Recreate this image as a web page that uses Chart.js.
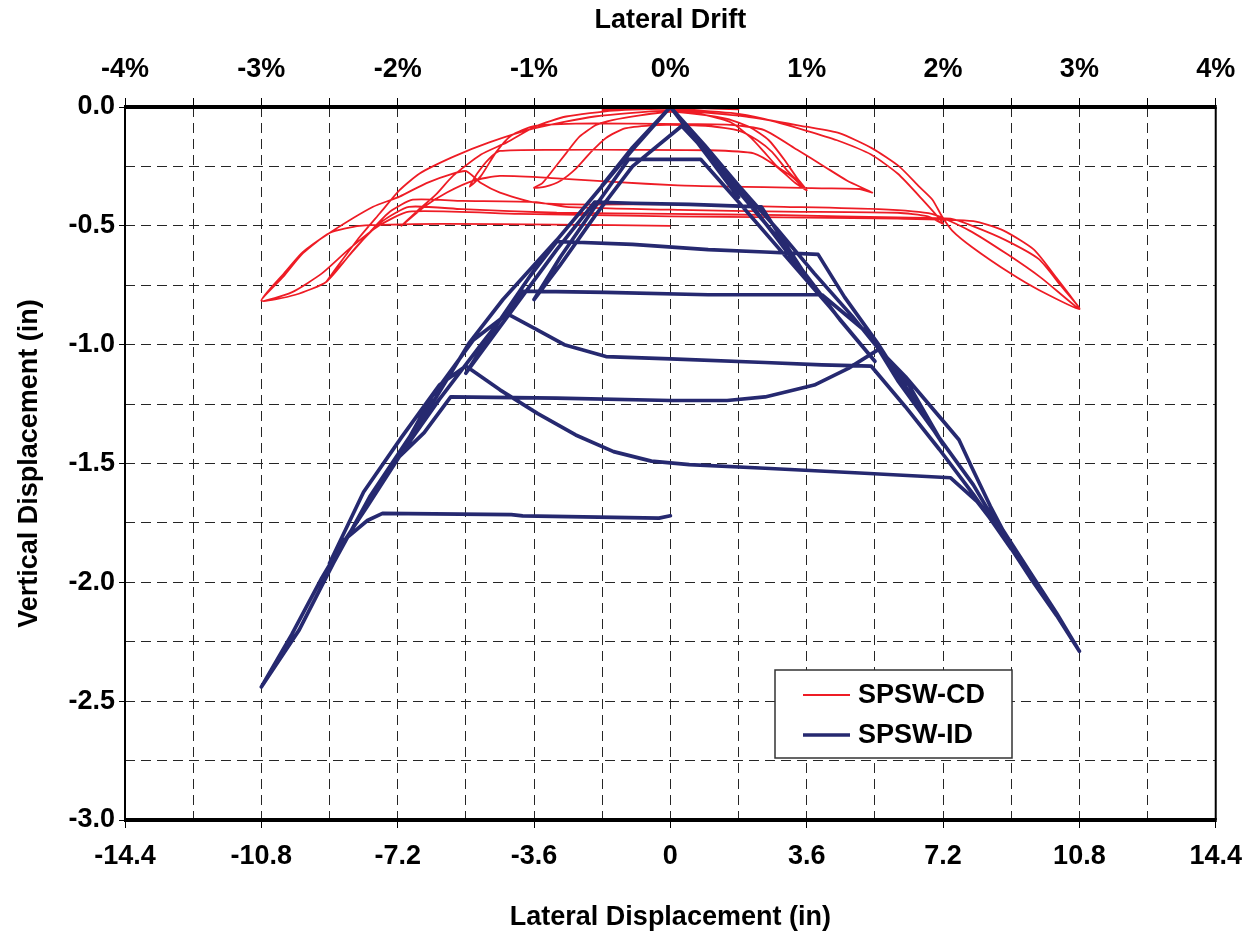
<!DOCTYPE html>
<html>
<head>
<meta charset="utf-8">
<title>SPSW vertical displacement</title>
<script src="https://cdn.jsdelivr.net/npm/chart.js@4.4.1/dist/chart.umd.min.js"></script>
<style>
  html, body { margin: 0; padding: 0; background: #fff; }
  #wrap { width: 1254px; height: 935px; }
</style>
</head>
<body>
<div id="wrap"><canvas id="myChart" width="1254" height="935"></canvas></div>
<script>
/* DATA */
var dispTicks = [-14.4, -10.8, -7.2, -3.6, 0, 3.6, 7.2, 10.8, 14.4];
var dispLabels = ['-14.4', '-10.8', '-7.2', '-3.6', '0', '3.6', '7.2', '10.8', '14.4'];
var driftTicks = [-4, -3, -2, -1, 0, 1, 2, 3, 4];
var driftLabels = ['-4%', '-3%', '-2%', '-1%', '0%', '1%', '2%', '3%', '4%'];
var vertTicks = [-3.0, -2.5, -2.0, -1.5, -1.0, -0.5, 0.0];
var vertLabels = ['-3.0', '-2.5', '-2.0', '-1.5', '-1.0', '-0.5', '0.0'];

// SPSW-CD: [lateral displacement (in), vertical displacement (in)]
var cdPath = [
  [0, 0], [0.9, -0.003], [1.8, -0.01], [0.9, -0.006], [0, -0.004], [-0.9, -0.005], [-1.8, -0.012], [-0.9, -0.008], [0, -0.006],
  [0.8, -0.03], [1.6, -0.065], [2.13, -0.13], [2.48, -0.19], [2.82, -0.25], [3.18, -0.29], [3.6, -0.35],
  [3.35, -0.30], [3.0, -0.22], [2.6, -0.14], [2.1, -0.085], [1.5, -0.05], [0.7, -0.03], [0, -0.02],
  [-0.8, -0.035], [-1.53, -0.055], [-1.96, -0.076], [-2.4, -0.125], [-2.75, -0.194], [-3.1, -0.265], [-3.38, -0.32], [-3.6, -0.34],
  [-3.3, -0.335], [-2.9, -0.31], [-2.5, -0.26], [-2.1, -0.19], [-1.7, -0.13], [-1.2, -0.09], [-0.5, -0.077], [0, -0.075], [1.0, -0.08],
  [1.82, -0.10], [2.3, -0.14], [2.69, -0.19], [3.1, -0.27], [3.6, -0.35],
  [3.3, -0.32], [2.8, -0.25], [2.2, -0.195], [1.0, -0.182], [-1.0, -0.18], [-3.0, -0.18], [-4.5, -0.185],
  [-4.8, -0.22], [-5.1, -0.28], [-5.3, -0.335],
  [-5.0, -0.29], [-4.6, -0.19], [-4.2, -0.12], [-3.6, -0.08], [-2.5, -0.07], [-1.0, -0.07], [0.5, -0.072],
  [1.6, -0.075], [2.48, -0.097], [3.35, -0.18], [4.06, -0.25], [4.67, -0.31], [5.33, -0.36],
  [5.0, -0.345], [4.0, -0.342], [3.45, -0.34], [1.5, -0.335], [0.2, -0.33], [-1.5, -0.315], [-3.0, -0.30], [-4.5, -0.29],
  [-5.2, -0.31], [-5.9, -0.36], [-6.5, -0.42], [-7.1, -0.50],
  [-6.7, -0.44], [-6.2, -0.37], [-5.74, -0.29], [-5.0, -0.20], [-4.33, -0.15], [-3.54, -0.08], [-2.75, -0.04], [-1.5, -0.015], [0, -0.008],
  [1.6, -0.025], [2.48, -0.05], [3.6, -0.10], [4.4, -0.14], [5.3, -0.20], [6.0, -0.28], [6.6, -0.38], [7.2, -0.49],
  [6.8, -0.46], [6.0, -0.445], [3.0, -0.44], [0.24, -0.433], [-2.75, -0.42], [-3.54, -0.40], [-5.5, -0.395], [-6.8, -0.39],
  [-7.4, -0.44], [-7.9, -0.52], [-8.4, -0.61], [-9.08, -0.735],
  [-8.73, -0.658], [-8.2, -0.546], [-7.67, -0.447], [-7.15, -0.35], [-6.62, -0.28], [-5.74, -0.21], [-4.8, -0.15], [-3.6, -0.09], [-2.0, -0.04], [0, -0.015],
  [2.0, -0.04], [3.58, -0.083], [4.46, -0.11], [5.33, -0.174], [6.04, -0.25], [6.57, -0.335], [6.92, -0.39], [7.17, -0.46], [7.44, -0.52], [7.97, -0.59], [8.98, -0.70], [9.73, -0.77], [10.8, -0.85],
  [10.3, -0.75], [9.73, -0.64], [8.85, -0.56], [7.97, -0.50], [7.4, -0.47], [6.0, -0.465], [3.0, -0.455], [0, -0.45], [-3.0, -0.445], [-5.5, -0.43], [-6.9, -0.42],
  [-7.6, -0.48], [-8.3, -0.59], [-9.08, -0.735], [-9.9, -0.79], [-10.8, -0.815],
  [-10.2, -0.70], [-9.7, -0.61], [-9.0, -0.53], [-7.85, -0.42], [-7.15, -0.377], [-6.44, -0.32], [-5.74, -0.28], [-5.39, -0.27], [-5.0, -0.32], [-4.5, -0.36], [-3.64, -0.40], [-2.58, -0.41], [0, -0.41], [3.0, -0.42], [5.5, -0.43], [6.9, -0.45],
  [7.9, -0.52], [8.9, -0.62], [9.8, -0.72], [10.8, -0.85],
  [10.2, -0.72], [9.6, -0.60], [8.8, -0.52], [8.0, -0.48], [6.0, -0.47], [0, -0.46], [-4.0, -0.45], [-6.9, -0.44],
  [-7.7, -0.50], [-8.5, -0.60], [-9.2, -0.70], [-10.0, -0.78], [-10.8, -0.815],
  [-10.22, -0.714], [-9.7, -0.615], [-9.0, -0.53], [-8.2, -0.50], [-6.0, -0.492], [-3.0, -0.495], [0, -0.50]
];

// SPSW-ID: [lateral displacement (in), vertical displacement (in)]
var idPath = [
  [0, 0],
  [1.0, -0.20], [1.8, -0.38], [1.0, -0.21], [0, 0],
  [-1.0, -0.18], [-1.8, -0.33], [-1.0, -0.17], [0, 0],
  [1.2, -0.24], [2.3, -0.45], [3.0, -0.58], [3.6, -0.72],
  [2.8, -0.55], [1.6, -0.30], [0.3, -0.08],
  [-1.0, -0.25], [-2.0, -0.46], [-2.93, -0.67], [-3.6, -0.81],
  [-2.9, -0.63], [-1.9, -0.40], [-1.1, -0.22],
  [0.8, -0.22],
  [1.8, -0.40], [3.0, -0.62], [4.2, -0.84], [5.4, -1.07],
  [4.5, -0.90], [3.5, -0.69], [2.4, -0.42],
  [0.5, -0.41], [-1.0, -0.405], [-2.0, -0.40],
  [-3.0, -0.60], [-4.2, -0.86], [-5.4, -1.12],
  [-4.6, -0.92], [-3.7, -0.71], [-3.0, -0.566],
  [-1.0, -0.578], [1.0, -0.60], [2.5, -0.61], [3.9, -0.62],
  [4.6, -0.80], [5.5, -1.0], [6.3, -1.20], [7.2, -1.42],
  [6.3, -1.17], [5.2, -0.95], [4.0, -0.79],
  [1.0, -0.79], [-1.7, -0.78], [-3.9, -0.775],
  [-5.0, -1.0], [-6.1, -1.23], [-7.2, -1.48],
  [-6.3, -1.22], [-5.2, -0.98], [-4.3, -0.87],
  [-3.6, -0.93], [-2.8, -1.0], [-1.7, -1.05], [0, -1.06], [2.5, -1.075], [4.0, -1.085], [5.3, -1.09],
  [6.2, -1.26], [7.1, -1.44], [8.0, -1.63], [9.0, -1.86],
  [8.0, -1.59], [7.0, -1.37], [6.0, -1.15], [5.5, -1.02],
  [4.7, -1.10], [3.8, -1.17], [2.5, -1.22], [1.5, -1.235], [0, -1.235], [-3.0, -1.225], [-5.8, -1.22],
  [-6.5, -1.37], [-7.15, -1.47], [-8.0, -1.68], [-9.0, -1.92],
  [-8.1, -1.62], [-7.1, -1.39], [-6.1, -1.17], [-5.4, -1.09],
  [-4.5, -1.19], [-3.5, -1.29], [-2.5, -1.38], [-1.5, -1.45], [-0.5, -1.49], [0.5, -1.505], [2.5, -1.52], [5.0, -1.54], [7.4, -1.56],
  [8.1, -1.66], [8.68, -1.78], [9.5, -1.98], [10.2, -2.14], [10.8, -2.29],
  [10.2, -2.13], [9.55, -1.97], [8.78, -1.78], [8.45, -1.68], [7.97, -1.52], [7.62, -1.40], [7.09, -1.30], [6.21, -1.135], [5.51, -1.02],
  [4.8, -0.88], [3.8, -0.70], [2.8, -0.51], [1.8, -0.33], [0.9, -0.16], [0, 0],
  [-1.0, -0.18], [-2.0, -0.37], [-3.0, -0.56], [-4.42, -0.81], [-5.3, -0.99], [-6.18, -1.22], [-7.06, -1.43], [-7.94, -1.64], [-8.9, -1.92], [-9.8, -2.20], [-10.8, -2.44],
  [-10.0, -2.22], [-9.2, -1.98], [-8.6, -1.82], [-8.0, -1.74], [-7.6, -1.71],
  [-4.2, -1.715], [-3.9, -1.72], [-0.3, -1.73], [0, -1.72]
];
/* DATA */

var FONT = "'Liberation Sans', Arial, Helvetica, sans-serif";
var RED = '#ee1c25';
var NAVY = '#262970';

function toXY(path) {
  return path.map(function (p) { return { x: p[0], y: p[1] }; });
}

// major ticks plus a grid line half way between each pair
function withHalves(majors) {
  var out = [];
  for (var i = 0; i < majors.length; i++) {
    out.push(majors[i]);
    if (i < majors.length - 1) out.push((majors[i] + majors[i + 1]) / 2);
  }
  return out;
}

function findLabel(v, majors, labels) {
  for (var i = 0; i < majors.length; i++) {
    if (Math.abs(majors[i] - v) < 1e-6) return labels[i];
  }
  return '';
}

function isMajor(v, majors) {
  for (var i = 0; i < majors.length; i++) {
    if (Math.abs(majors[i] - v) < 1e-6) return true;
  }
  return false;
}

function setTicks(values) {
  return function (scale) {
    scale.ticks = values.map(function (v) { return { value: v }; });
  };
}

var tickFont = { family: FONT, size: 27, weight: 'bold' };
var dash = [10, 6];
var gridColor = '#262626';

/* plot frame and legend box */
var framePlugin = {
  id: 'frame',
  afterDatasetsDraw: function (chart) {
    var ctx = chart.ctx, a = chart.chartArea;
    ctx.save();
    ctx.strokeStyle = '#000';
    ctx.lineWidth = 2;
    ctx.beginPath();
    ctx.moveTo(a.left, a.top); ctx.lineTo(a.left, a.bottom);
    ctx.moveTo(a.right, a.top); ctx.lineTo(a.right, a.bottom);
    ctx.stroke();
    ctx.lineWidth = 4;
    ctx.beginPath();
    ctx.moveTo(a.left - 1, a.top); ctx.lineTo(a.right + 1, a.top);
    ctx.moveTo(a.left - 1, a.bottom); ctx.lineTo(a.right + 1, a.bottom);
    ctx.stroke();
    ctx.restore();
  }
};

var legendPlugin = {
  id: 'boxLegend',
  afterDraw: function (chart) {
    var ctx = chart.ctx;
    var box = { left: 775, top: 670, width: 237, height: 88 };
    ctx.save();
    ctx.fillStyle = '#fff';
    ctx.fillRect(box.left, box.top, box.width, box.height);
    ctx.strokeStyle = '#333';
    ctx.lineWidth = 1.5;
    ctx.strokeRect(box.left, box.top, box.width, box.height);
    ctx.font = 'bold 27px ' + FONT;
    ctx.textBaseline = 'middle';
    ctx.fillStyle = '#000';
    var rows = [chart.data.datasets[1], chart.data.datasets[0]];
    rows.forEach(function (ds, i) {
      var y = box.top + 25 + i * 40;
      ctx.strokeStyle = ds.borderColor;
      ctx.lineWidth = ds.borderWidth;
      ctx.beginPath();
      ctx.moveTo(box.left + 28, y);
      ctx.lineTo(box.left + 75, y);
      ctx.stroke();
      ctx.fillText(ds.label, box.left + 83, y + 1);
    });
    ctx.restore();
  }
};

var config = {
  type: 'scatter',
  data: {
    datasets: [
      { label: 'SPSW-ID', data: toXY(idPath), borderColor: NAVY, backgroundColor: NAVY,
        borderWidth: 3.7, showLine: true, pointRadius: 0, tension: 0, order: 0,
        borderJoinStyle: 'round', borderCapStyle: 'round' },
      { label: 'SPSW-CD', data: toXY(cdPath), borderColor: RED, backgroundColor: RED,
        borderWidth: 1.8, showLine: true, pointRadius: 0, tension: 0.2, order: 1 }
    ]
  },
  options: {
    responsive: false,
    animation: false,
    layout: { padding: { left: 0, right: 37, top: 0, bottom: 0 } },
    plugins: { legend: { display: false }, tooltip: { enabled: false } },
    scales: {
      x: {
        type: 'linear', position: 'bottom', min: -14.4, max: 14.4,
        afterBuildTicks: setTicks(withHalves(dispTicks)),
        afterFit: function (s) { s.height = 115; },
        ticks: {
          autoSkip: false, maxRotation: 0, color: '#000', font: tickFont, padding: 12,
          callback: function (v) { return findLabel(v, dispTicks, dispLabels); }
        },
        grid: {
          color: gridColor, lineWidth: 1, tickLength: 8, tickBorderDash: [],
          tickColor: function (c) { return c.tick && isMajor(c.tick.value, dispTicks) ? '#000' : 'rgba(0,0,0,0)'; }
        },
        border: { display: false, dash: dash },
        title: { display: true, text: 'Lateral Displacement (in)', color: '#000', font: tickFont, padding: { top: 0, bottom: 1 } }
      },
      x2: {
        type: 'linear', position: 'top', min: -4, max: 4,
        afterBuildTicks: setTicks(withHalves(driftTicks)),
        afterFit: function (s) { s.height = 107; },
        ticks: {
          autoSkip: false, maxRotation: 0, color: '#000', font: tickFont, padding: 12,
          callback: function (v) { return findLabel(v, driftTicks, driftLabels); }
        },
        grid: { drawOnChartArea: false, tickLength: 9, tickColor: '#000', tickBorderDash: [] },
        border: { display: false },
        title: { display: true, text: 'Lateral Drift', color: '#000', font: tickFont, padding: { top: 4, bottom: 0 } }
      },
      y: {
        type: 'linear', position: 'left', min: -3, max: 0,
        afterBuildTicks: setTicks(withHalves(vertTicks)),
        afterFit: function (s) { s.width = 125; },
        ticks: {
          autoSkip: false, color: '#000', font: tickFont, padding: 4,
          callback: function (v) { return findLabel(v, vertTicks, vertLabels); }
        },
        grid: {
          color: gridColor, lineWidth: 1, tickLength: 6, tickBorderDash: [],
          tickColor: function (c) { return c.tick && isMajor(c.tick.value, vertTicks) ? '#000' : 'rgba(0,0,0,0)'; }
        },
        border: { display: false, dash: dash },
        title: { display: true, text: 'Vertical Displacement (in)', color: '#000', font: tickFont, padding: { top: 13, bottom: 0 } }
      }
    }
  },
  plugins: [framePlugin, legendPlugin]
};

window.onload = function () {
  var ctx = document.getElementById('myChart').getContext('2d');
  window.myChart = new Chart(ctx, config);
};
</script>
</body>
</html>
